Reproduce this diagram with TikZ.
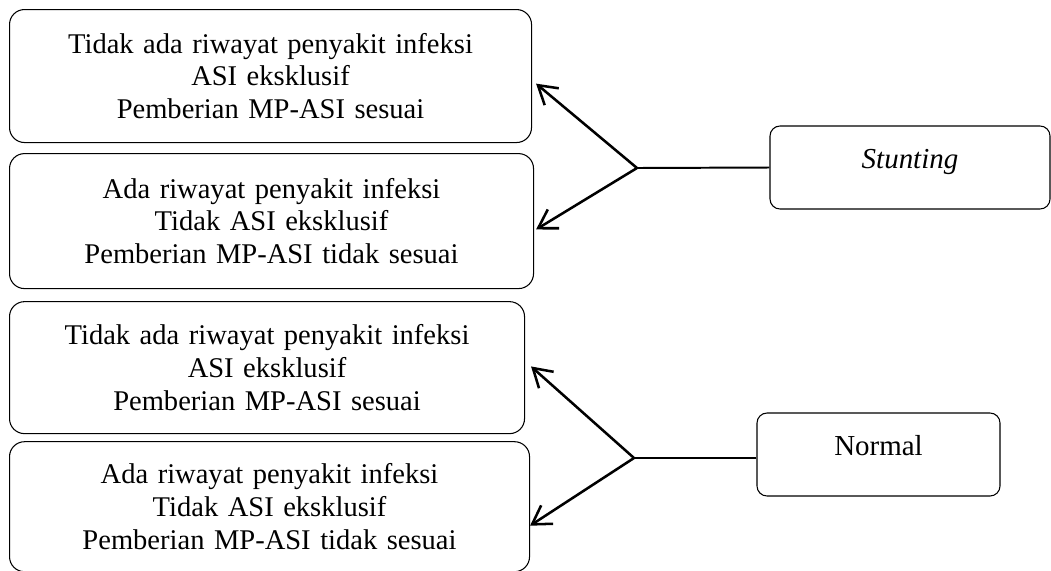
\documentclass[tikz,border=0pt]{standalone}
\usepackage{fontspec}
\setmainfont{Liberation Serif}
\usetikzlibrary{arrows.meta, positioning}
\tikzset{
  factbox/.style = {
    rectangle, rounded corners=0.375cm,
    draw=black, line width=0.75pt, fill=white,
    inner xsep=0pt, align=center,
    font=\fontsize{20.3pt}{23.4pt}\selectfont
  },
  outbox/.style = {
    rectangle, rounded corners=0.25cm,
    draw=black, line width=0.75pt, fill=white,
    align=center, text height=0.48cm, text depth=0.45cm,
    font=\fontsize{20.6pt}{23.4pt}\selectfont
  },
  arr/.style  = {-{Straight Barb[length=0.45cm, width=0.55cm]}, line width=1.8pt, black},
  link/.style = {line width=1.4pt, black}
}

\begin{document}
\begin{tikzpicture}
\useasboundingbox (0,0) rectangle (26.275,-14.25);

%% left boxes (stacked)
\node[factbox, anchor=north west, text width=13.05cm, minimum height=3.325cm]
      (f1) at (0.225,-0.225)
      {Tidak ada riwayat penyakit infeksi\\ ASI eksklusif\\ Pemberian MP-ASI sesuai};
\node[factbox, below=0.25cm of f1.south west, anchor=north west,
      text width=13.1cm, minimum height=3.375cm] (f2)
      {Ada riwayat penyakit infeksi\\ Tidak ASI eksklusif\\ Pemberian MP-ASI tidak sesuai};
\node[factbox, below=0.3cm of f2.south west, anchor=north west,
      text width=12.875cm, minimum height=3.3cm] (f3)
      {Tidak ada riwayat penyakit infeksi\\ ASI eksklusif\\ Pemberian MP-ASI sesuai};
\node[factbox, below=0.175cm of f3.south west, anchor=north west,
      text width=13.0cm, minimum height=3.25cm] (f4)
      {Ada riwayat penyakit infeksi\\ Tidak ASI eksklusif\\ Pemberian MP-ASI tidak sesuai};

%% outcome boxes (right side)
\node[outbox, minimum width=7.0cm, minimum height=2.075cm] (st) at (22.75,-4.1875)
      {\itshape Stunting};
\node[outbox, minimum width=6.075cm, minimum height=2.075cm] (nm) at (21.9625,-11.3625)
      {Normal};

%% branch points
\coordinate (j1) at (15.925,-4.2);
\coordinate (j2) at (15.85,-11.45);

\draw[link] (st.west) -- (j1);
\draw[link] (nm.west |- j2) -- (j2);

%% arrows to the left boxes
\foreach \j/\b/\dx/\dy in {j1/f1/0.1/-0.19, j1/f2/0.05/-0.21, j2/f3/0.15/0.03, j2/f4/0/-0.475}
  \draw[arr] (\j) -- ([xshift=\dx cm, yshift=\dy cm]\b.east);

\end{tikzpicture}
\end{document}
